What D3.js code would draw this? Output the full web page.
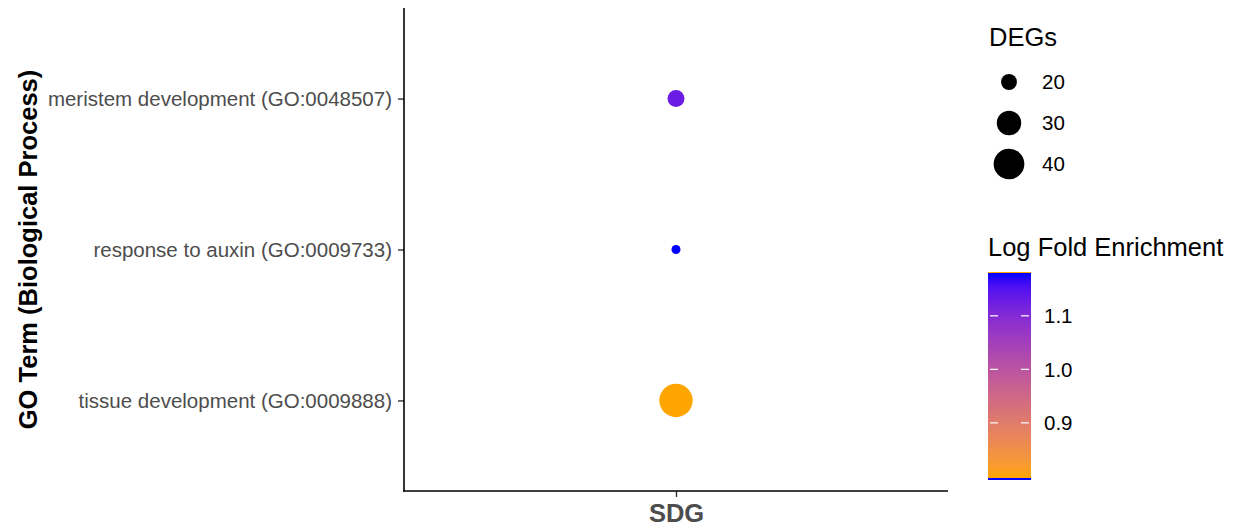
<!DOCTYPE html>
<html>
<head>
<meta charset="utf-8">
<script src="https://cdn.jsdelivr.net/npm/d3@7"></script>
<style>
  body { margin: 0; background: #fff; }
  text { font-family: "Liberation Sans", Arial, sans-serif; }
</style>
</head>
<body>
<div class="container"></div>
<script>
// data
let terms = ['meristem development (GO:0048507)', 'response to auxin (GO:0009733)', 'tissue development (GO:0009888)']
let groups = ['SDG']
let degs = [21, 15, 45]
let logFold = [1.13, 1.18, 0.797]
let sizeBreaks = [20, 30, 40]
let colorBreaks = [0.9, 1.0, 1.1]

let width = 1241
let height = 527
let margin = { top: 8, left: 404, right: 293, bottom: 36 }
let plotW = width - margin.left - margin.right
let plotH = height - margin.top - margin.bottom

let points = terms.map((t, i) => ({ term: t, group: groups[0], degs: degs[i], lfe: logFold[i] }))

let svg = d3.select('.container')
    .append('svg')
    .attr('width', width)
    .attr('height', height)

let g = svg.append('g')
    .attr('transform', `translate(${margin.left},${margin.top})`)

// discrete scales with ggplot-like 0.6 expansion
let yScale = d3.scalePoint()
    .domain(terms)
    .range([0, plotH])
    .padding(0.6)
let xScale = d3.scalePoint()
    .domain(groups)
    .range([0, plotW])
    .padding(0.6)

let lfeExtent = d3.extent(logFold)
let colorScale = d3.scaleLinear()
    .domain(lfeExtent)
    .range(['orange', 'blue'])
    .interpolate(d3.interpolateLab)

// area-proportional size, like scale_size
let degExtent = d3.extent(degs)
let rMin = 4.5, rMax = 16.7
let rScale = d3.scaleLinear().domain(degExtent).range([rMin * rMin, rMax * rMax])
let radius = (v) => Math.sqrt(rScale(v))

g.selectAll('circle.pt')
    .data(points)
    .enter()
    .append('circle')
    .attr('class', 'pt')
    .attr('cx', (d) => xScale(d.group))
    .attr('cy', (d) => yScale(d.term))
    .attr('r', (d) => radius(d.degs))
    .attr('fill', (d) => colorScale(d.lfe))

let yAxis = d3.axisLeft(yScale).tickSize(6).tickPadding(6)
let xAxis = d3.axisBottom(xScale).tickSize(6).tickPadding(3)

let ya = g.append('g').call(yAxis)
ya.select('.domain').remove()
ya.selectAll('line').attr('stroke', '#333').attr('stroke-width', 1.4)
ya.selectAll('text').attr('fill', '#4d4d4d').style('font-size', '20.5px')

let xa = g.append('g').attr('transform', `translate(0,${plotH})`).call(xAxis)
xa.select('.domain').remove()
xa.selectAll('line').attr('stroke', '#333').attr('stroke-width', 1.4)
xa.selectAll('text').attr('fill', '#4d4d4d').style('font-size', '25.5px').style('font-weight', 'bold')
    .attr('y', 31).attr('dy', 0)

// axis lines
g.append('line').attr('x1', 0).attr('x2', 0).attr('y1', 0).attr('y2', plotH + 0.8)
    .attr('stroke', '#000').attr('stroke-width', 1.6)
g.append('line').attr('x1', -0.8).attr('x2', plotW).attr('y1', plotH).attr('y2', plotH)
    .attr('stroke', '#000').attr('stroke-width', 1.6)

svg.append('text')
    .attr('transform', `translate(37,${margin.top + plotH / 2}) rotate(-90)`)
    .attr('text-anchor', 'middle')
    .style('font-size', '25.5px')
    .style('font-weight', 'bold')
    .text('GO Term (Biological Process)')

// size legend
let lg = svg.append('g').attr('transform', 'translate(989,0)')
lg.append('text').attr('x', 0).attr('y', 46).style('font-size', '25.5px').text('DEGs')
let sizeItems = lg.selectAll('g.sz')
    .data(sizeBreaks)
    .enter()
    .append('g')
    .attr('transform', (d, i) => `translate(0,${82 + i * 41})`)
sizeItems.append('circle').attr('cx', 20).attr('cy', 0).attr('r', (d) => radius(d)).attr('fill', '#000')
sizeItems.append('text').attr('x', 53).attr('y', 0).attr('dy', '0.35em').style('font-size', '20.5px').text((d) => d)

// colour bar legend
let cb = svg.append('g').attr('transform', 'translate(988,0)')
cb.append('text').attr('x', 0).attr('y', 256).style('font-size', '25.5px').text('Log Fold Enrichment')
let barTop = 273, barBottom = 478, barW = 43
let cbScale = d3.scaleLinear().domain(lfeExtent).range([barBottom, barTop])
let defs = svg.append('defs')
let grad = defs.append('linearGradient').attr('id', 'lfeGrad')
    .attr('x1', 0).attr('x2', 0).attr('y1', 1).attr('y2', 0)
d3.range(0, 1.0001, 0.05).forEach((t) => {
    grad.append('stop').attr('offset', t)
        .attr('stop-color', colorScale(lfeExtent[0] + t * (lfeExtent[1] - lfeExtent[0])))
})
cb.append('rect').attr('x', 0).attr('y', barTop).attr('width', barW).attr('height', barBottom - barTop)
    .attr('fill', 'url(#lfeGrad)')
cb.append('rect').attr('x', 0).attr('y', barTop - 1).attr('width', barW).attr('height', 1).attr('fill', colorScale(lfeExtent[0]))
cb.append('rect').attr('x', 0).attr('y', barBottom).attr('width', barW).attr('height', 2).attr('fill', colorScale(lfeExtent[1]))
let cbTicks = cb.selectAll('g.ct')
    .data(colorBreaks)
    .enter()
    .append('g')
    .attr('transform', (d) => `translate(0,${cbScale(d)})`)
cbTicks.append('line').attr('x1', 2).attr('x2', 10).attr('stroke', '#fff').attr('stroke-width', 1.2)
cbTicks.append('line').attr('x1', barW - 10).attr('x2', barW - 2).attr('stroke', '#fff').attr('stroke-width', 1.2)
cbTicks.append('text').attr('x', 56).attr('dy', '0.35em').style('font-size', '20.5px').text((d) => d.toFixed(1))
</script>
</body>
</html>
